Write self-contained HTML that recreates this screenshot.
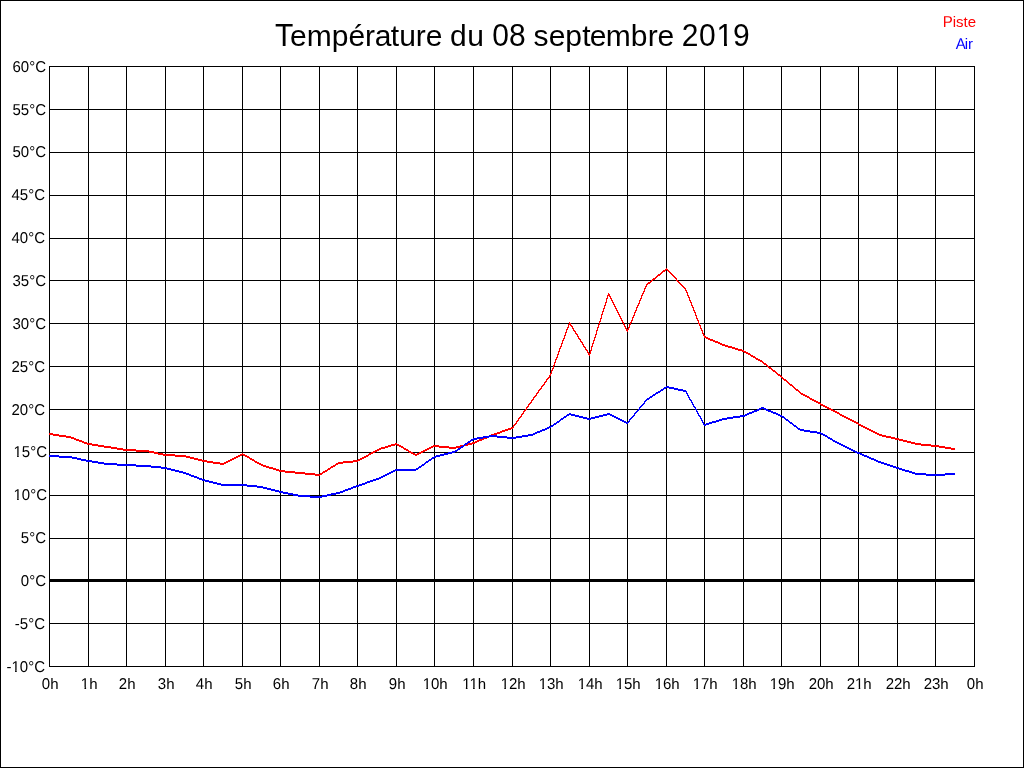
<!DOCTYPE html>
<html><head><meta charset="utf-8"><title>Température du 08 septembre 2019</title><style>
html,body{margin:0;padding:0;background:#fff;}
svg{display:block;will-change:transform;}
text{font-family:'Liberation Sans',Arial,sans-serif;fill:#000;}
</style></head><body>
<svg width="1024" height="768" viewBox="0 0 1024 768">
<rect x="0.5" y="0.5" width="1023" height="767" fill="#fff" stroke="#000" stroke-width="1"/>
<g shape-rendering="crispEdges">
<path d="M49.5 66V667M88.5 66V667M126.5 66V667M165.5 66V667M203.5 66V667M242.5 66V667M280.5 66V667M319.5 66V667M357.5 66V667M396.5 66V667M434.5 66V667M473.5 66V667M512.5 66V667M550.5 66V667M589.5 66V667M627.5 66V667M666.5 66V667M704.5 66V667M743.5 66V667M781.5 66V667M820.5 66V667M858.5 66V667M897.5 66V667M935.5 66V667M974.5 66V667M49 66.5H975M49 109.5H975M49 152.5H975M49 195.5H975M49 238.5H975M49 280.5H975M49 323.5H975M49 366.5H975M49 409.5H975M49 452.5H975M49 495.5H975M49 538.5H975M49 580.5H975M49 623.5H975M49 666.5H975" stroke="#000" stroke-width="1" fill="none"/>
<rect x="49" y="579" width="926" height="3" fill="#000"/>
<path d="M666 268h1v1h-1zM665 269h3v1h-3zM663 270h3v1h-3zM667 270h2v1h-2zM662 271h3v1h-3zM668 271h2v1h-2zM661 272h2v1h-2zM669 272h2v1h-2zM660 273h2v1h-2zM670 273h2v1h-2zM658 274h3v1h-3zM671 274h2v1h-2zM657 275h3v1h-3zM672 275h2v1h-2zM656 276h2v1h-2zM673 276h2v1h-2zM655 277h2v1h-2zM674 277h2v1h-2zM653 278h3v1h-3zM675 278h2v1h-2zM652 279h3v1h-3zM676 279h1v1h-1zM651 280h2v1h-2zM676 280h2v1h-2zM650 281h2v1h-2zM677 281h2v1h-2zM648 282h3v1h-3zM678 282h2v1h-2zM647 283h3v1h-3zM679 283h2v1h-2zM646 284h2v1h-2zM680 284h2v1h-2zM646 285h1v1h-1zM681 285h2v1h-2zM645 286h2v1h-2zM682 286h2v1h-2zM645 287h1v1h-1zM683 287h2v1h-2zM644 288h2v1h-2zM684 288h2v1h-2zM644 289h1v1h-1zM685 289h1v1h-1zM644 290h1v1h-1zM685 290h2v1h-2zM643 291h2v1h-2zM686 291h1v1h-1zM643 292h1v1h-1zM686 292h2v1h-2zM608 293h1v1h-1zM642 293h2v1h-2zM687 293h1v1h-1zM608 294h2v1h-2zM642 294h1v1h-1zM687 294h1v1h-1zM607 295h3v1h-3zM641 295h2v1h-2zM687 295h2v1h-2zM607 296h1v1h-1zM609 296h2v1h-2zM641 296h1v1h-1zM688 296h1v1h-1zM607 297h1v1h-1zM610 297h1v1h-1zM641 297h1v1h-1zM688 297h2v1h-2zM606 298h2v1h-2zM610 298h2v1h-2zM640 298h2v1h-2zM689 298h1v1h-1zM606 299h1v1h-1zM611 299h1v1h-1zM640 299h1v1h-1zM689 299h1v1h-1zM606 300h1v1h-1zM611 300h2v1h-2zM639 300h2v1h-2zM689 300h2v1h-2zM606 301h1v1h-1zM612 301h1v1h-1zM639 301h1v1h-1zM690 301h1v1h-1zM605 302h2v1h-2zM612 302h2v1h-2zM639 302h1v1h-1zM690 302h2v1h-2zM605 303h1v1h-1zM613 303h1v1h-1zM638 303h2v1h-2zM691 303h1v1h-1zM605 304h1v1h-1zM613 304h2v1h-2zM638 304h1v1h-1zM691 304h1v1h-1zM604 305h2v1h-2zM614 305h1v1h-1zM637 305h2v1h-2zM691 305h2v1h-2zM604 306h1v1h-1zM614 306h2v1h-2zM637 306h1v1h-1zM692 306h1v1h-1zM604 307h1v1h-1zM615 307h1v1h-1zM636 307h2v1h-2zM692 307h2v1h-2zM603 308h2v1h-2zM615 308h2v1h-2zM636 308h1v1h-1zM693 308h1v1h-1zM603 309h1v1h-1zM616 309h1v1h-1zM636 309h1v1h-1zM693 309h1v1h-1zM603 310h1v1h-1zM616 310h2v1h-2zM635 310h2v1h-2zM693 310h2v1h-2zM602 311h2v1h-2zM617 311h1v1h-1zM635 311h1v1h-1zM694 311h1v1h-1zM602 312h1v1h-1zM617 312h2v1h-2zM634 312h2v1h-2zM694 312h2v1h-2zM602 313h1v1h-1zM618 313h1v1h-1zM634 313h1v1h-1zM695 313h1v1h-1zM601 314h2v1h-2zM618 314h2v1h-2zM634 314h1v1h-1zM695 314h1v1h-1zM601 315h1v1h-1zM619 315h1v1h-1zM633 315h2v1h-2zM695 315h2v1h-2zM601 316h1v1h-1zM619 316h2v1h-2zM633 316h1v1h-1zM696 316h1v1h-1zM601 317h1v1h-1zM620 317h1v1h-1zM632 317h2v1h-2zM696 317h1v1h-1zM600 318h2v1h-2zM620 318h2v1h-2zM632 318h1v1h-1zM696 318h2v1h-2zM600 319h1v1h-1zM621 319h1v1h-1zM632 319h1v1h-1zM697 319h1v1h-1zM600 320h1v1h-1zM621 320h2v1h-2zM631 320h2v1h-2zM697 320h2v1h-2zM599 321h2v1h-2zM622 321h1v1h-1zM631 321h1v1h-1zM698 321h1v1h-1zM569 322h1v1h-1zM599 322h1v1h-1zM622 322h2v1h-2zM630 322h2v1h-2zM698 322h1v1h-1zM569 323h2v1h-2zM599 323h1v1h-1zM623 323h1v1h-1zM630 323h1v1h-1zM698 323h2v1h-2zM568 324h3v1h-3zM598 324h2v1h-2zM623 324h2v1h-2zM629 324h2v1h-2zM699 324h1v1h-1zM568 325h1v1h-1zM570 325h2v1h-2zM598 325h1v1h-1zM624 325h1v1h-1zM629 325h1v1h-1zM699 325h2v1h-2zM568 326h1v1h-1zM571 326h2v1h-2zM598 326h1v1h-1zM624 326h2v1h-2zM629 326h1v1h-1zM700 326h1v1h-1zM567 327h2v1h-2zM572 327h1v1h-1zM597 327h2v1h-2zM625 327h1v1h-1zM628 327h2v1h-2zM700 327h1v1h-1zM567 328h1v1h-1zM572 328h2v1h-2zM597 328h1v1h-1zM625 328h2v1h-2zM628 328h1v1h-1zM700 328h2v1h-2zM566 329h2v1h-2zM573 329h1v1h-1zM597 329h1v1h-1zM626 329h3v1h-3zM701 329h1v1h-1zM566 330h1v1h-1zM573 330h2v1h-2zM596 330h2v1h-2zM626 330h2v1h-2zM701 330h2v1h-2zM566 331h1v1h-1zM574 331h2v1h-2zM596 331h1v1h-1zM627 331h1v1h-1zM702 331h1v1h-1zM565 332h2v1h-2zM575 332h1v1h-1zM596 332h1v1h-1zM702 332h1v1h-1zM565 333h1v1h-1zM575 333h2v1h-2zM596 333h1v1h-1zM702 333h2v1h-2zM565 334h1v1h-1zM576 334h2v1h-2zM595 334h2v1h-2zM703 334h1v1h-1zM564 335h2v1h-2zM577 335h1v1h-1zM595 335h1v1h-1zM703 335h2v1h-2zM564 336h1v1h-1zM577 336h2v1h-2zM595 336h1v1h-1zM704 336h2v1h-2zM564 337h1v1h-1zM578 337h1v1h-1zM594 337h2v1h-2zM704 337h4v1h-4zM563 338h2v1h-2zM578 338h2v1h-2zM594 338h1v1h-1zM706 338h4v1h-4zM563 339h1v1h-1zM579 339h2v1h-2zM594 339h1v1h-1zM708 339h5v1h-5zM562 340h2v1h-2zM580 340h1v1h-1zM593 340h2v1h-2zM710 340h5v1h-5zM562 341h1v1h-1zM580 341h2v1h-2zM593 341h1v1h-1zM713 341h5v1h-5zM562 342h1v1h-1zM581 342h2v1h-2zM593 342h1v1h-1zM715 342h5v1h-5zM561 343h2v1h-2zM582 343h1v1h-1zM592 343h2v1h-2zM718 343h4v1h-4zM561 344h1v1h-1zM582 344h2v1h-2zM592 344h1v1h-1zM720 344h5v1h-5zM561 345h1v1h-1zM583 345h1v1h-1zM592 345h1v1h-1zM722 345h6v1h-6zM560 346h2v1h-2zM583 346h2v1h-2zM591 346h2v1h-2zM725 346h7v1h-7zM560 347h1v1h-1zM584 347h2v1h-2zM591 347h1v1h-1zM728 347h7v1h-7zM559 348h2v1h-2zM585 348h1v1h-1zM591 348h1v1h-1zM732 348h6v1h-6zM559 349h1v1h-1zM585 349h2v1h-2zM591 349h1v1h-1zM735 349h7v1h-7zM559 350h1v1h-1zM586 350h2v1h-2zM590 350h2v1h-2zM738 350h6v1h-6zM558 351h2v1h-2zM587 351h1v1h-1zM590 351h1v1h-1zM742 351h4v1h-4zM558 352h1v1h-1zM587 352h2v1h-2zM590 352h1v1h-1zM744 352h4v1h-4zM558 353h1v1h-1zM588 353h3v1h-3zM746 353h4v1h-4zM557 354h2v1h-2zM588 354h2v1h-2zM748 354h3v1h-3zM557 355h1v1h-1zM589 355h1v1h-1zM750 355h3v1h-3zM557 356h1v1h-1zM751 356h4v1h-4zM556 357h2v1h-2zM753 357h3v1h-3zM556 358h1v1h-1zM755 358h3v1h-3zM555 359h2v1h-2zM756 359h4v1h-4zM555 360h1v1h-1zM758 360h4v1h-4zM555 361h1v1h-1zM760 361h3v1h-3zM554 362h2v1h-2zM762 362h2v1h-2zM554 363h1v1h-1zM763 363h3v1h-3zM554 364h1v1h-1zM764 364h3v1h-3zM553 365h2v1h-2zM766 365h2v1h-2zM553 366h1v1h-1zM767 366h2v1h-2zM553 367h1v1h-1zM768 367h3v1h-3zM552 368h2v1h-2zM769 368h3v1h-3zM552 369h1v1h-1zM771 369h2v1h-2zM551 370h2v1h-2zM772 370h3v1h-3zM551 371h1v1h-1zM773 371h3v1h-3zM551 372h1v1h-1zM775 372h2v1h-2zM550 373h2v1h-2zM776 373h2v1h-2zM550 374h1v1h-1zM777 374h3v1h-3zM549 375h2v1h-2zM778 375h3v1h-3zM549 376h1v1h-1zM780 376h2v1h-2zM548 377h2v1h-2zM781 377h2v1h-2zM547 378h2v1h-2zM782 378h2v1h-2zM546 379h2v1h-2zM783 379h3v1h-3zM546 380h1v1h-1zM784 380h3v1h-3zM545 381h2v1h-2zM786 381h2v1h-2zM544 382h2v1h-2zM787 382h2v1h-2zM544 383h1v1h-1zM788 383h2v1h-2zM543 384h2v1h-2zM789 384h3v1h-3zM542 385h2v1h-2zM790 385h3v1h-3zM541 386h2v1h-2zM792 386h2v1h-2zM541 387h1v1h-1zM793 387h2v1h-2zM540 388h2v1h-2zM794 388h2v1h-2zM539 389h2v1h-2zM795 389h3v1h-3zM538 390h2v1h-2zM796 390h3v1h-3zM538 391h1v1h-1zM798 391h2v1h-2zM537 392h2v1h-2zM799 392h2v1h-2zM536 393h2v1h-2zM800 393h3v1h-3zM536 394h1v1h-1zM801 394h4v1h-4zM535 395h2v1h-2zM803 395h4v1h-4zM534 396h2v1h-2zM805 396h4v1h-4zM533 397h2v1h-2zM807 397h3v1h-3zM533 398h1v1h-1zM809 398h3v1h-3zM532 399h2v1h-2zM810 399h4v1h-4zM531 400h2v1h-2zM812 400h4v1h-4zM531 401h1v1h-1zM814 401h4v1h-4zM530 402h2v1h-2zM816 402h4v1h-4zM529 403h2v1h-2zM818 403h3v1h-3zM528 404h2v1h-2zM820 404h3v1h-3zM528 405h1v1h-1zM821 405h4v1h-4zM527 406h2v1h-2zM823 406h4v1h-4zM526 407h2v1h-2zM825 407h4v1h-4zM526 408h1v1h-1zM827 408h4v1h-4zM525 409h2v1h-2zM829 409h4v1h-4zM524 410h2v1h-2zM831 410h4v1h-4zM523 411h2v1h-2zM833 411h4v1h-4zM523 412h1v1h-1zM835 412h4v1h-4zM522 413h2v1h-2zM837 413h3v1h-3zM521 414h2v1h-2zM839 414h3v1h-3zM521 415h1v1h-1zM840 415h4v1h-4zM520 416h2v1h-2zM842 416h4v1h-4zM519 417h2v1h-2zM844 417h4v1h-4zM518 418h2v1h-2zM846 418h4v1h-4zM518 419h1v1h-1zM848 419h4v1h-4zM517 420h2v1h-2zM850 420h4v1h-4zM516 421h2v1h-2zM852 421h4v1h-4zM516 422h1v1h-1zM854 422h4v1h-4zM515 423h2v1h-2zM856 423h3v1h-3zM514 424h2v1h-2zM858 424h3v1h-3zM513 425h2v1h-2zM859 425h4v1h-4zM513 426h1v1h-1zM861 426h4v1h-4zM511 427h3v1h-3zM863 427h4v1h-4zM508 428h5v1h-5zM865 428h4v1h-4zM505 429h6v1h-6zM867 429h4v1h-4zM502 430h6v1h-6zM869 430h4v1h-4zM500 431h5v1h-5zM871 431h4v1h-4zM497 432h5v1h-5zM873 432h4v1h-4zM49 433h4v1h-4zM494 433h6v1h-6zM875 433h4v1h-4zM49 434h10v1h-10zM491 434h6v1h-6zM877 434h5v1h-5zM53 435h13v1h-13zM489 435h5v1h-5zM879 435h7v1h-7zM59 436h12v1h-12zM487 436h4v1h-4zM882 436h9v1h-9zM66 437h8v1h-8zM484 437h5v1h-5zM886 437h9v1h-9zM71 438h5v1h-5zM482 438h5v1h-5zM891 438h8v1h-8zM74 439h5v1h-5zM479 439h5v1h-5zM895 439h8v1h-8zM76 440h6v1h-6zM477 440h5v1h-5zM899 440h8v1h-8zM79 441h5v1h-5zM475 441h4v1h-4zM903 441h8v1h-8zM82 442h5v1h-5zM472 442h5v1h-5zM907 442h8v1h-8zM84 443h8v1h-8zM395 443h2v1h-2zM468 443h7v1h-7zM911 443h10v1h-10zM87 444h11v1h-11zM391 444h8v1h-8zM464 444h8v1h-8zM915 444h16v1h-16zM92 445h12v1h-12zM388 445h7v1h-7zM397 445h4v1h-4zM433 445h6v1h-6zM460 445h8v1h-8zM921 445h18v1h-18zM98 446h13v1h-13zM385 446h6v1h-6zM399 446h4v1h-4zM431 446h18v1h-18zM456 446h8v1h-8zM931 446h14v1h-14zM104 447h13v1h-13zM381 447h7v1h-7zM401 447h3v1h-3zM429 447h4v1h-4zM439 447h21v1h-21zM939 447h12v1h-12zM111 448h12v1h-12zM379 448h6v1h-6zM403 448h3v1h-3zM427 448h4v1h-4zM449 448h7v1h-7zM945 448h10v1h-10zM117 449h19v1h-19zM377 449h4v1h-4zM404 449h4v1h-4zM425 449h4v1h-4zM951 449h4v1h-4zM123 450h26v1h-26zM375 450h4v1h-4zM406 450h3v1h-3zM423 450h4v1h-4zM136 451h18v1h-18zM373 451h4v1h-4zM408 451h3v1h-3zM421 451h4v1h-4zM149 452h9v1h-9zM371 452h4v1h-4zM409 452h4v1h-4zM419 452h4v1h-4zM154 453h9v1h-9zM242 453h1v1h-1zM369 453h4v1h-4zM411 453h4v1h-4zM417 453h4v1h-4zM158 454h17v1h-17zM240 454h5v1h-5zM368 454h3v1h-3zM413 454h6v1h-6zM163 455h23v1h-23zM238 455h4v1h-4zM243 455h4v1h-4zM366 455h3v1h-3zM415 455h2v1h-2zM175 456h15v1h-15zM236 456h4v1h-4zM245 456h4v1h-4zM364 456h4v1h-4zM186 457h8v1h-8zM234 457h4v1h-4zM247 457h3v1h-3zM362 457h4v1h-4zM190 458h8v1h-8zM232 458h4v1h-4zM249 458h3v1h-3zM360 458h4v1h-4zM194 459h8v1h-8zM230 459h4v1h-4zM250 459h4v1h-4zM358 459h4v1h-4zM198 460h9v1h-9zM228 460h4v1h-4zM252 460h3v1h-3zM353 460h7v1h-7zM202 461h11v1h-11zM226 461h4v1h-4zM254 461h3v1h-3zM343 461h15v1h-15zM207 462h13v1h-13zM224 462h4v1h-4zM255 462h4v1h-4zM338 462h15v1h-15zM213 463h13v1h-13zM257 463h4v1h-4zM336 463h7v1h-7zM220 464h4v1h-4zM259 464h4v1h-4zM335 464h3v1h-3zM261 465h5v1h-5zM333 465h3v1h-3zM263 466h6v1h-6zM331 466h4v1h-4zM266 467h7v1h-7zM330 467h3v1h-3zM269 468h7v1h-7zM328 468h3v1h-3zM273 469h6v1h-6zM327 469h3v1h-3zM276 470h9v1h-9zM325 470h3v1h-3zM279 471h16v1h-16zM323 471h4v1h-4zM285 472h20v1h-20zM322 472h3v1h-3zM295 473h20v1h-20zM320 473h3v1h-3zM305 474h17v1h-17zM315 475h5v1h-5z" fill="#f00"/>
<path d="M666 386h3v1h-3zM664 387h10v1h-10zM663 388h3v1h-3zM669 388h9v1h-9zM661 389h3v1h-3zM674 389h9v1h-9zM660 390h3v1h-3zM678 390h8v1h-8zM658 391h3v1h-3zM683 391h4v1h-4zM656 392h4v1h-4zM686 392h1v1h-1zM655 393h3v1h-3zM686 393h2v1h-2zM653 394h3v1h-3zM687 394h1v1h-1zM652 395h3v1h-3zM687 395h2v1h-2zM650 396h3v1h-3zM688 396h1v1h-1zM649 397h3v1h-3zM688 397h2v1h-2zM647 398h3v1h-3zM689 398h1v1h-1zM646 399h3v1h-3zM689 399h2v1h-2zM645 400h2v1h-2zM690 400h2v1h-2zM644 401h2v1h-2zM691 401h1v1h-1zM644 402h1v1h-1zM691 402h2v1h-2zM643 403h2v1h-2zM692 403h1v1h-1zM642 404h2v1h-2zM692 404h2v1h-2zM641 405h2v1h-2zM693 405h1v1h-1zM640 406h2v1h-2zM693 406h2v1h-2zM639 407h2v1h-2zM694 407h2v1h-2zM761 407h3v1h-3zM639 408h1v1h-1zM695 408h1v1h-1zM759 408h7v1h-7zM638 409h2v1h-2zM695 409h2v1h-2zM757 409h4v1h-4zM764 409h4v1h-4zM637 410h2v1h-2zM696 410h1v1h-1zM754 410h5v1h-5zM766 410h5v1h-5zM636 411h2v1h-2zM696 411h2v1h-2zM752 411h5v1h-5zM768 411h5v1h-5zM635 412h2v1h-2zM697 412h1v1h-1zM749 412h5v1h-5zM771 412h5v1h-5zM569 413h2v1h-2zM607 413h3v1h-3zM634 413h2v1h-2zM697 413h2v1h-2zM747 413h5v1h-5zM773 413h5v1h-5zM567 414h8v1h-8zM603 414h9v1h-9zM634 414h1v1h-1zM698 414h1v1h-1zM745 414h4v1h-4zM776 414h4v1h-4zM566 415h3v1h-3zM571 415h8v1h-8zM599 415h8v1h-8zM610 415h4v1h-4zM633 415h2v1h-2zM698 415h2v1h-2zM740 415h7v1h-7zM778 415h4v1h-4zM564 416h3v1h-3zM575 416h8v1h-8zM595 416h8v1h-8zM612 416h4v1h-4zM632 416h2v1h-2zM699 416h2v1h-2zM733 416h12v1h-12zM780 416h4v1h-4zM563 417h3v1h-3zM579 417h8v1h-8zM591 417h8v1h-8zM614 417h4v1h-4zM631 417h2v1h-2zM700 417h1v1h-1zM727 417h13v1h-13zM782 417h3v1h-3zM561 418h3v1h-3zM583 418h12v1h-12zM616 418h4v1h-4zM630 418h2v1h-2zM700 418h2v1h-2zM722 418h11v1h-11zM784 418h2v1h-2zM560 419h3v1h-3zM587 419h4v1h-4zM618 419h4v1h-4zM629 419h2v1h-2zM701 419h1v1h-1zM719 419h8v1h-8zM785 419h3v1h-3zM559 420h2v1h-2zM620 420h4v1h-4zM629 420h1v1h-1zM701 420h2v1h-2zM716 420h6v1h-6zM786 420h3v1h-3zM557 421h3v1h-3zM622 421h4v1h-4zM628 421h2v1h-2zM702 421h1v1h-1zM712 421h7v1h-7zM788 421h2v1h-2zM556 422h3v1h-3zM624 422h5v1h-5zM702 422h2v1h-2zM709 422h7v1h-7zM789 422h3v1h-3zM554 423h3v1h-3zM626 423h2v1h-2zM703 423h1v1h-1zM706 423h6v1h-6zM790 423h3v1h-3zM553 424h3v1h-3zM703 424h6v1h-6zM792 424h2v1h-2zM551 425h3v1h-3zM704 425h2v1h-2zM793 425h3v1h-3zM549 426h4v1h-4zM794 426h3v1h-3zM547 427h4v1h-4zM796 427h2v1h-2zM545 428h4v1h-4zM797 428h3v1h-3zM542 429h5v1h-5zM798 429h6v1h-6zM540 430h5v1h-5zM800 430h10v1h-10zM537 431h5v1h-5zM804 431h13v1h-13zM535 432h5v1h-5zM810 432h11v1h-11zM533 433h4v1h-4zM817 433h6v1h-6zM528 434h7v1h-7zM821 434h4v1h-4zM489 435h8v1h-8zM522 435h11v1h-11zM823 435h4v1h-4zM483 436h24v1h-24zM516 436h12v1h-12zM825 436h3v1h-3zM477 437h12v1h-12zM497 437h25v1h-25zM827 437h3v1h-3zM473 438h10v1h-10zM507 438h9v1h-9zM828 438h4v1h-4zM471 439h6v1h-6zM830 439h3v1h-3zM470 440h3v1h-3zM832 440h3v1h-3zM468 441h3v1h-3zM833 441h4v1h-4zM467 442h3v1h-3zM835 442h4v1h-4zM465 443h3v1h-3zM837 443h4v1h-4zM464 444h3v1h-3zM839 444h4v1h-4zM463 445h2v1h-2zM841 445h4v1h-4zM461 446h3v1h-3zM843 446h4v1h-4zM460 447h3v1h-3zM845 447h4v1h-4zM458 448h3v1h-3zM847 448h4v1h-4zM457 449h3v1h-3zM849 449h4v1h-4zM455 450h3v1h-3zM851 450h4v1h-4zM452 451h5v1h-5zM853 451h4v1h-4zM448 452h7v1h-7zM855 452h5v1h-5zM444 453h8v1h-8zM857 453h5v1h-5zM440 454h8v1h-8zM860 454h4v1h-4zM49 455h10v1h-10zM436 455h8v1h-8zM862 455h5v1h-5zM49 456h23v1h-23zM434 456h6v1h-6zM864 456h5v1h-5zM59 457h18v1h-18zM432 457h4v1h-4zM867 457h4v1h-4zM72 458h9v1h-9zM431 458h3v1h-3zM869 458h5v1h-5zM77 459h9v1h-9zM429 459h3v1h-3zM871 459h5v1h-5zM81 460h11v1h-11zM428 460h3v1h-3zM874 460h4v1h-4zM86 461h12v1h-12zM426 461h3v1h-3zM876 461h5v1h-5zM92 462h12v1h-12zM425 462h3v1h-3zM878 462h6v1h-6zM98 463h19v1h-19zM424 463h2v1h-2zM881 463h6v1h-6zM104 464h32v1h-32zM422 464h3v1h-3zM884 464h6v1h-6zM117 465h34v1h-34zM421 465h3v1h-3zM887 465h6v1h-6zM136 466h25v1h-25zM419 466h3v1h-3zM890 466h6v1h-6zM151 467h16v1h-16zM418 467h3v1h-3zM893 467h6v1h-6zM161 468h10v1h-10zM416 468h3v1h-3zM896 468h6v1h-6zM167 469h8v1h-8zM395 469h23v1h-23zM899 469h6v1h-6zM171 470h8v1h-8zM393 470h23v1h-23zM902 470h7v1h-7zM175 471h8v1h-8zM391 471h4v1h-4zM905 471h7v1h-7zM179 472h7v1h-7zM389 472h4v1h-4zM909 472h6v1h-6zM183 473h6v1h-6zM387 473h4v1h-4zM912 473h14v1h-14zM945 473h10v1h-10zM186 474h5v1h-5zM385 474h4v1h-4zM915 474h40v1h-40zM189 475h5v1h-5zM383 475h4v1h-4zM926 475h19v1h-19zM191 476h6v1h-6zM381 476h4v1h-4zM194 477h5v1h-5zM379 477h4v1h-4zM197 478h5v1h-5zM376 478h5v1h-5zM199 479h6v1h-6zM373 479h6v1h-6zM202 480h7v1h-7zM370 480h6v1h-6zM205 481h8v1h-8zM367 481h6v1h-6zM209 482h8v1h-8zM365 482h5v1h-5zM213 483h8v1h-8zM362 483h5v1h-5zM217 484h30v1h-30zM359 484h6v1h-6zM221 485h36v1h-36zM356 485h6v1h-6zM247 486h16v1h-16zM353 486h6v1h-6zM257 487h10v1h-10zM351 487h5v1h-5zM263 488h8v1h-8zM348 488h5v1h-5zM267 489h8v1h-8zM345 489h6v1h-6zM271 490h8v1h-8zM343 490h5v1h-5zM275 491h8v1h-8zM340 491h5v1h-5zM279 492h9v1h-9zM336 492h7v1h-7zM283 493h10v1h-10zM331 493h9v1h-9zM288 494h10v1h-10zM327 494h9v1h-9zM293 495h17v1h-17zM322 495h9v1h-9zM298 496h29v1h-29zM310 497h12v1h-12z" fill="#00f"/>
</g>
<text x="275.02" y="46" transform="matrix(1 0 0 1.05 0 -2.300)" style="font-size:30px">T</text>
<text x="290.02 306.69 331.69 348.38 365.05 374.75 390.73 399.16 415.75 425.73 443.42 449.95 467.24 485.12" y="46" style="font-size:30px">empérature du </text>
<text x="492.30 509.09 526.83" y="46" transform="matrix(1 0 0 1.05 0 -2.300)" style="font-size:30px">08 </text>
<text x="533.57 548.77 565.14 582.33 589.67 605.85 630.75 647.73 657.62 676.91" y="46" style="font-size:30px">septembre </text>
<text x="681.73 698.92 716.61 733.00" y="46" transform="matrix(1 0 0 1.05 0 -2.300)" style="font-size:30px">2019</text>
<text x="942.64" y="27" transform="matrix(1 0 0 1.05 0 -1.350)" style="font-size:15px;fill:#f00;text-rendering:geometricPrecision">P</text>
<text x="952.64" y="27" style="font-size:15px;fill:#f00">iste</text>
<text x="955.66" y="49" transform="matrix(1 0 0 1.05 0 -2.450)" style="font-size:15px;fill:#00f;text-rendering:geometricPrecision">A</text>
<text x="964.66 967.98" y="49" style="font-size:15px;fill:#00f">ir</text>
<text x="12.48" y="72" transform="matrix(1 0 0 1.05 0 -3.600)" style="font-size:15px;text-rendering:geometricPrecision">60°C</text>
<text x="12.48" y="115" transform="matrix(1 0 0 1.05 0 -5.750)" style="font-size:15px;text-rendering:geometricPrecision">55°C</text>
<text x="12.48" y="157" transform="matrix(1 0 0 1.05 0 -7.850)" style="font-size:15px;text-rendering:geometricPrecision">50°C</text>
<text x="11.48" y="200" transform="matrix(1 0 0 1.05 0 -10.000)" style="font-size:15px;text-rendering:geometricPrecision">45°C</text>
<text x="11.48" y="243" transform="matrix(1 0 0 1.05 0 -12.150)" style="font-size:15px;text-rendering:geometricPrecision">40°C</text>
<text x="12.48" y="286" transform="matrix(1 0 0 1.05 0 -14.300)" style="font-size:15px;text-rendering:geometricPrecision">35°C</text>
<text x="12.48" y="329" transform="matrix(1 0 0 1.05 0 -16.450)" style="font-size:15px;text-rendering:geometricPrecision">30°C</text>
<text x="11.48" y="372" transform="matrix(1 0 0 1.05 0 -18.600)" style="font-size:15px;text-rendering:geometricPrecision">25°C</text>
<text x="11.48" y="415" transform="matrix(1 0 0 1.05 0 -20.750)" style="font-size:15px;text-rendering:geometricPrecision">20°C</text>
<text x="13.48" y="457" transform="matrix(1 0 0 1.05 0 -22.850)" style="font-size:15px;text-rendering:geometricPrecision">15°C</text>
<text x="13.48" y="500" transform="matrix(1 0 0 1.05 0 -25.000)" style="font-size:15px;text-rendering:geometricPrecision">10°C</text>
<text x="20.81" y="543" transform="matrix(1 0 0 1.05 0 -27.150)" style="font-size:15px;text-rendering:geometricPrecision">5°C</text>
<text x="20.81" y="586" transform="matrix(1 0 0 1.05 0 -29.300)" style="font-size:15px;text-rendering:geometricPrecision">0°C</text>
<text x="14.83" y="629" style="font-size:15px">-</text>
<text x="19.81" y="629" transform="matrix(1 0 0 1.05 0 -31.450)" style="font-size:15px;text-rendering:geometricPrecision">5°C</text>
<text x="6.48" y="672" style="font-size:15px">-</text>
<text x="11.47" y="672" transform="matrix(1 0 0 1.05 0 -33.600)" style="font-size:15px;text-rendering:geometricPrecision">10°C</text>
<text x="41.86" y="689" transform="matrix(1 0 0 1.05 0 -34.450)" style="font-size:15px;text-rendering:geometricPrecision">0</text>
<text x="50.18" y="689" style="font-size:15px">h</text>
<text x="80.86" y="689" transform="matrix(1 0 0 1.05 0 -34.450)" style="font-size:15px;text-rendering:geometricPrecision">1</text>
<text x="89.18" y="689" style="font-size:15px">h</text>
<text x="118.86" y="689" transform="matrix(1 0 0 1.05 0 -34.450)" style="font-size:15px;text-rendering:geometricPrecision">2</text>
<text x="127.18" y="689" style="font-size:15px">h</text>
<text x="157.86" y="689" transform="matrix(1 0 0 1.05 0 -34.450)" style="font-size:15px;text-rendering:geometricPrecision">3</text>
<text x="166.18" y="689" style="font-size:15px">h</text>
<text x="195.86" y="689" transform="matrix(1 0 0 1.05 0 -34.450)" style="font-size:15px;text-rendering:geometricPrecision">4</text>
<text x="204.18" y="689" style="font-size:15px">h</text>
<text x="234.86" y="689" transform="matrix(1 0 0 1.05 0 -34.450)" style="font-size:15px;text-rendering:geometricPrecision">5</text>
<text x="243.18" y="689" style="font-size:15px">h</text>
<text x="272.86" y="689" transform="matrix(1 0 0 1.05 0 -34.450)" style="font-size:15px;text-rendering:geometricPrecision">6</text>
<text x="281.18" y="689" style="font-size:15px">h</text>
<text x="311.86" y="689" transform="matrix(1 0 0 1.05 0 -34.450)" style="font-size:15px;text-rendering:geometricPrecision">7</text>
<text x="320.18" y="689" style="font-size:15px">h</text>
<text x="349.86" y="689" transform="matrix(1 0 0 1.05 0 -34.450)" style="font-size:15px;text-rendering:geometricPrecision">8</text>
<text x="358.18" y="689" style="font-size:15px">h</text>
<text x="388.86" y="689" transform="matrix(1 0 0 1.05 0 -34.450)" style="font-size:15px;text-rendering:geometricPrecision">9</text>
<text x="397.18" y="689" style="font-size:15px">h</text>
<text x="422.68" y="689" transform="matrix(1 0 0 1.05 0 -34.450)" style="font-size:15px;text-rendering:geometricPrecision">10</text>
<text x="439.36" y="689" style="font-size:15px">h</text>
<text x="462.24" y="689" transform="matrix(1 0 0 1.05 0 -34.450)" style="font-size:15px;text-rendering:geometricPrecision">11</text>
<text x="477.80" y="689" style="font-size:15px">h</text>
<text x="500.68" y="689" transform="matrix(1 0 0 1.05 0 -34.450)" style="font-size:15px;text-rendering:geometricPrecision">12</text>
<text x="517.36" y="689" style="font-size:15px">h</text>
<text x="538.68" y="689" transform="matrix(1 0 0 1.05 0 -34.450)" style="font-size:15px;text-rendering:geometricPrecision">13</text>
<text x="555.36" y="689" style="font-size:15px">h</text>
<text x="577.68" y="689" transform="matrix(1 0 0 1.05 0 -34.450)" style="font-size:15px;text-rendering:geometricPrecision">14</text>
<text x="594.36" y="689" style="font-size:15px">h</text>
<text x="615.68" y="689" transform="matrix(1 0 0 1.05 0 -34.450)" style="font-size:15px;text-rendering:geometricPrecision">15</text>
<text x="632.36" y="689" style="font-size:15px">h</text>
<text x="654.68" y="689" transform="matrix(1 0 0 1.05 0 -34.450)" style="font-size:15px;text-rendering:geometricPrecision">16</text>
<text x="671.36" y="689" style="font-size:15px">h</text>
<text x="692.68" y="689" transform="matrix(1 0 0 1.05 0 -34.450)" style="font-size:15px;text-rendering:geometricPrecision">17</text>
<text x="709.36" y="689" style="font-size:15px">h</text>
<text x="731.68" y="689" transform="matrix(1 0 0 1.05 0 -34.450)" style="font-size:15px;text-rendering:geometricPrecision">18</text>
<text x="748.36" y="689" style="font-size:15px">h</text>
<text x="769.68" y="689" transform="matrix(1 0 0 1.05 0 -34.450)" style="font-size:15px;text-rendering:geometricPrecision">19</text>
<text x="786.36" y="689" style="font-size:15px">h</text>
<text x="808.68" y="689" transform="matrix(1 0 0 1.05 0 -34.450)" style="font-size:15px;text-rendering:geometricPrecision">20</text>
<text x="825.36" y="689" style="font-size:15px">h</text>
<text x="846.68" y="689" transform="matrix(1 0 0 1.05 0 -34.450)" style="font-size:15px;text-rendering:geometricPrecision">21</text>
<text x="863.36" y="689" style="font-size:15px">h</text>
<text x="885.68" y="689" transform="matrix(1 0 0 1.05 0 -34.450)" style="font-size:15px;text-rendering:geometricPrecision">22</text>
<text x="902.36" y="689" style="font-size:15px">h</text>
<text x="923.68" y="689" transform="matrix(1 0 0 1.05 0 -34.450)" style="font-size:15px;text-rendering:geometricPrecision">23</text>
<text x="940.36" y="689" style="font-size:15px">h</text>
<text x="966.86" y="689" transform="matrix(1 0 0 1.05 0 -34.450)" style="font-size:15px;text-rendering:geometricPrecision">0</text>
<text x="975.18" y="689" style="font-size:15px">h</text>
<g fill="#fff"><rect x="717.69" y="42.90" width="6.31" height="3.70"/><rect x="726.95" y="42.90" width="6.07" height="3.70"/><rect x="13.43" y="455.07" width="3.68" height="2.53"/><rect x="18.73" y="455.07" width="3.56" height="2.53"/><rect x="13.43" y="498.07" width="3.68" height="2.53"/><rect x="18.73" y="498.07" width="3.56" height="2.53"/><rect x="11.41" y="670.07" width="3.68" height="2.53"/><rect x="16.72" y="670.07" width="3.56" height="2.53"/><rect x="80.80" y="687.07" width="3.68" height="2.53"/><rect x="86.10" y="687.07" width="3.56" height="2.53"/><rect x="422.63" y="687.07" width="3.68" height="2.53"/><rect x="427.93" y="687.07" width="3.56" height="2.53"/><rect x="462.18" y="687.07" width="3.68" height="2.53"/><rect x="467.49" y="687.07" width="3.56" height="2.53"/><rect x="469.40" y="687.07" width="3.68" height="2.53"/><rect x="474.71" y="687.07" width="3.56" height="2.53"/><rect x="500.63" y="687.07" width="3.68" height="2.53"/><rect x="505.93" y="687.07" width="3.56" height="2.53"/><rect x="538.63" y="687.07" width="3.68" height="2.53"/><rect x="543.93" y="687.07" width="3.56" height="2.53"/><rect x="577.63" y="687.07" width="3.68" height="2.53"/><rect x="582.93" y="687.07" width="3.56" height="2.53"/><rect x="615.63" y="687.07" width="3.68" height="2.53"/><rect x="620.93" y="687.07" width="3.56" height="2.53"/><rect x="654.63" y="687.07" width="3.68" height="2.53"/><rect x="659.93" y="687.07" width="3.56" height="2.53"/><rect x="692.63" y="687.07" width="3.68" height="2.53"/><rect x="697.93" y="687.07" width="3.56" height="2.53"/><rect x="731.63" y="687.07" width="3.68" height="2.53"/><rect x="736.93" y="687.07" width="3.56" height="2.53"/><rect x="769.63" y="687.07" width="3.68" height="2.53"/><rect x="774.93" y="687.07" width="3.56" height="2.53"/><rect x="854.96" y="687.07" width="3.68" height="2.53"/><rect x="860.26" y="687.07" width="3.56" height="2.53"/></g>
</svg>
</body></html>
